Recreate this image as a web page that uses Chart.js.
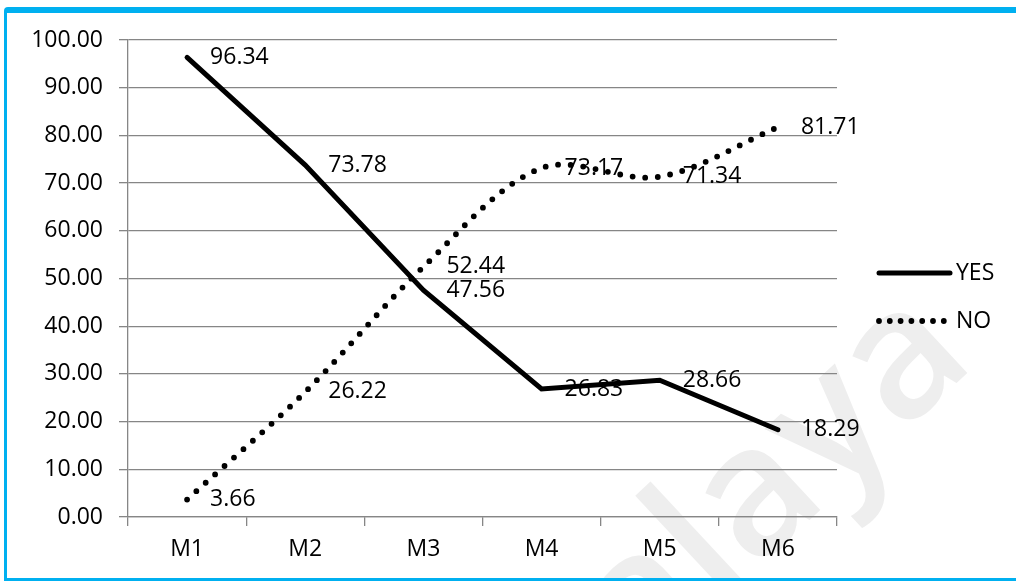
<!DOCTYPE html>
<html>
<head>
<meta charset="utf-8">
<script src="https://cdn.jsdelivr.net/npm/chart.js@4/dist/chart.umd.min.js"></script>
<style>
  html, body { margin: 0; padding: 0; background: #ffffff; }
  #wrap { position: relative; width: 1016px; height: 581px; overflow: hidden; }
  #frame {
    position: absolute; left: 4px; top: 7px; width: 1100px; height: 574px;
    box-sizing: border-box;
    border-top: 6px solid #00b0f0; border-left: 3px solid #00b0f0; border-bottom: 3px solid #00b0f0;
    border-top-left-radius: 4px;
    pointer-events: none;
  }
  canvas { position: absolute; left: 0; top: 0; }
</style>
</head>
<body>
<div id="wrap">
  <canvas id="chart" width="1016" height="581"></canvas>
  <div id="frame"></div>
</div>
<script>
// Survey responses per module (percent)
const categories = ['M1', 'M2', 'M3', 'M4', 'M5', 'M6'];
const yesValues = [96.34, 73.78, 47.56, 26.83, 28.66, 18.29];
const noValues = [3.66, 26.22, 52.44, 73.17, 71.34, 81.71];
const seriesNames = ['YES', 'NO'];

const FONT = { family: "'Open Sans', 'Liberation Sans', sans-serif", size: 23 };
const GRID = '#868686';

// faint background watermark
const watermark = {
  id: 'watermark',
  beforeDraw(chart) {
    const ctx = chart.ctx;
    ctx.save();
    ctx.fillStyle = '#ffffff';
    ctx.fillRect(0, 0, chart.width, chart.height);
    ctx.translate(520, 790);
    ctx.rotate(-43 * Math.PI / 180);
    ctx.fillStyle = '#eeeeee';
    ctx.font = "600 180px 'Open Sans', sans-serif";
    ctx.textBaseline = 'alphabetic';
    ctx.fillText('Malaya', 0, 0);
    ctx.restore();
  }
};

// value labels to the right of every point
const valueLabels = {
  id: 'valueLabels',
  afterDatasetsDraw(chart) {
    const ctx = chart.ctx;
    ctx.save();
    ctx.font = `${FONT.size}px ${FONT.family}`;
    ctx.fillStyle = '#000000';
    ctx.textAlign = 'left';
    ctx.textBaseline = 'middle';
    chart.data.datasets.forEach((ds, i) => {
      const meta = chart.getDatasetMeta(i);
      meta.data.forEach((pt, j) => {
        ctx.fillText(ds.data[j].toFixed(2), pt.x + 23, pt.y);
      });
    });
    ctx.restore();
  }
};

// legend drawn as line samples on the right
const sideLegend = {
  id: 'sideLegend',
  afterDraw(chart) {
    const ctx = chart.ctx;
    const area = chart.chartArea;
    const x0 = area.right + 42, x1 = area.right + 113;
    const rows = [273, 321];
    ctx.save();
    ctx.font = `${FONT.size}px ${FONT.family}`;
    ctx.textAlign = 'left';
    ctx.textBaseline = 'middle';
    chart.data.datasets.forEach((ds, i) => {
      const y = rows[i];
      ctx.strokeStyle = ds.borderColor;
      ctx.lineWidth = ds.borderWidth;
      ctx.lineCap = ds.borderCapStyle;
      ctx.setLineDash(ds.legendDash || []);
      ctx.beginPath();
      ctx.moveTo(x0, y);
      ctx.lineTo(x1, y);
      ctx.stroke();
      ctx.setLineDash([]);
      ctx.fillStyle = '#000000';
      ctx.fillText(ds.label, x1 + 6, y);
    });
    ctx.restore();
  }
};

new Chart(document.getElementById('chart'), {
  type: 'line',
  data: {
    labels: categories,
    datasets: [
      {
        label: seriesNames[0],
        data: yesValues,
        borderColor: '#000000',
        borderWidth: 5,
        borderCapStyle: 'round',
        borderJoinStyle: 'miter',
        pointRadius: 0,
        tension: 0,
        fill: false
      },
      {
        label: seriesNames[1],
        data: noValues,
        borderColor: '#000000',
        borderWidth: 5.8,
        borderCapStyle: 'round',
        borderDash: [0, 12.6],
        legendDash: [0, 10.8],
        pointRadius: 0,
        tension: 0.33,
        fill: false
      }
    ]
  },
  options: {
    responsive: false,
    animation: false,
    devicePixelRatio: 1,
    layout: { padding: { top: 40, right: 179, bottom: 0, left: 0 } },
    plugins: { legend: { display: false }, tooltip: { enabled: false } },
    scales: {
      x: {
        type: 'category',
        offset: true,
        grid: { display: true, drawOnChartArea: false, drawTicks: true, tickLength: 9, color: GRID, lineWidth: 1.3, offset: true },
        border: { display: true, color: GRID, width: 1.3 },
        ticks: { font: FONT, color: '#000000', padding: 10 },
        afterFit(scale) { scale.height = 64; }
      },
      y: {
        min: 0,
        max: 100,
        ticks: {
          stepSize: 10,
          font: FONT,
          color: '#000000',
          padding: 16,
          callback: v => Number(v).toFixed(2)
        },
        grid: { color: GRID, lineWidth: 1.3, tickLength: 9, drawTicks: true },
        border: { display: true, color: GRID, width: 1.3 },
        afterFit(scale) { scale.width = 128; }
      }
    }
  },
  plugins: [watermark, valueLabels, sideLegend]
});
</script>
</body>
</html>
